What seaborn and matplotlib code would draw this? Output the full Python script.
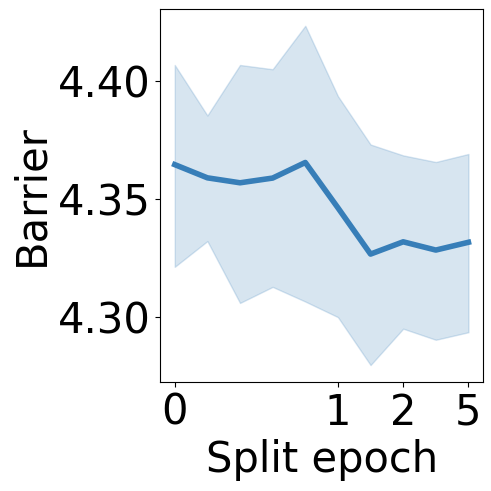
import numpy as np
import pandas as pd
import matplotlib
matplotlib.use("Agg")
import matplotlib.pyplot as plt
import seaborn as sns

# ten evaluation points along the x axis, ticks only on some of them
step = [0, 1, 2, 3, 4, 5, 6, 7, 8, 9]
tick_pos = [0, 5, 7, 9]
tick_labels = ["0", "1", "2", "5"]

barrier_mean = [4.3645, 4.3589, 4.3568, 4.3588, 4.3654, 4.3462, 4.3266, 4.3318, 4.3283, 4.3316]
barrier_low = [4.3212, 4.3321, 4.3059, 4.3127, 4.3065, 4.2999, 4.2796, 4.2950, 4.2903, 4.2935]
barrier_high = [4.4067, 4.3853, 4.4067, 4.4049, 4.4233, 4.3935, 4.3730, 4.3684, 4.3656, 4.3690]

color = "#377eb8"

df = pd.DataFrame({"step": step, "mean": barrier_mean, "low": barrier_low, "high": barrier_high})

fig, ax = plt.subplots(figsize=(4.91, 4.91), dpi=100)
sns.lineplot(data=df, x="step", y="mean", color=color, linewidth=4, ax=ax)
ax.fill_between(df["step"], df["low"], df["high"], color=color, alpha=0.2, linewidth=1)

ax.set_xticks(tick_pos)
ax.set_xticklabels(tick_labels)
ax.set_yticks([4.30, 4.35, 4.40])
ax.set_yticklabels(["4.30", "4.35", "4.40"])
ax.tick_params(labelsize=30)
ax.set_xlabel("Split epoch", fontsize=30)
ax.set_ylabel("Barrier", fontsize=30)

fig.subplots_adjust(left=0.326, right=0.984, top=0.982, bottom=0.222)
fig.savefig("out.png", dpi=100)
